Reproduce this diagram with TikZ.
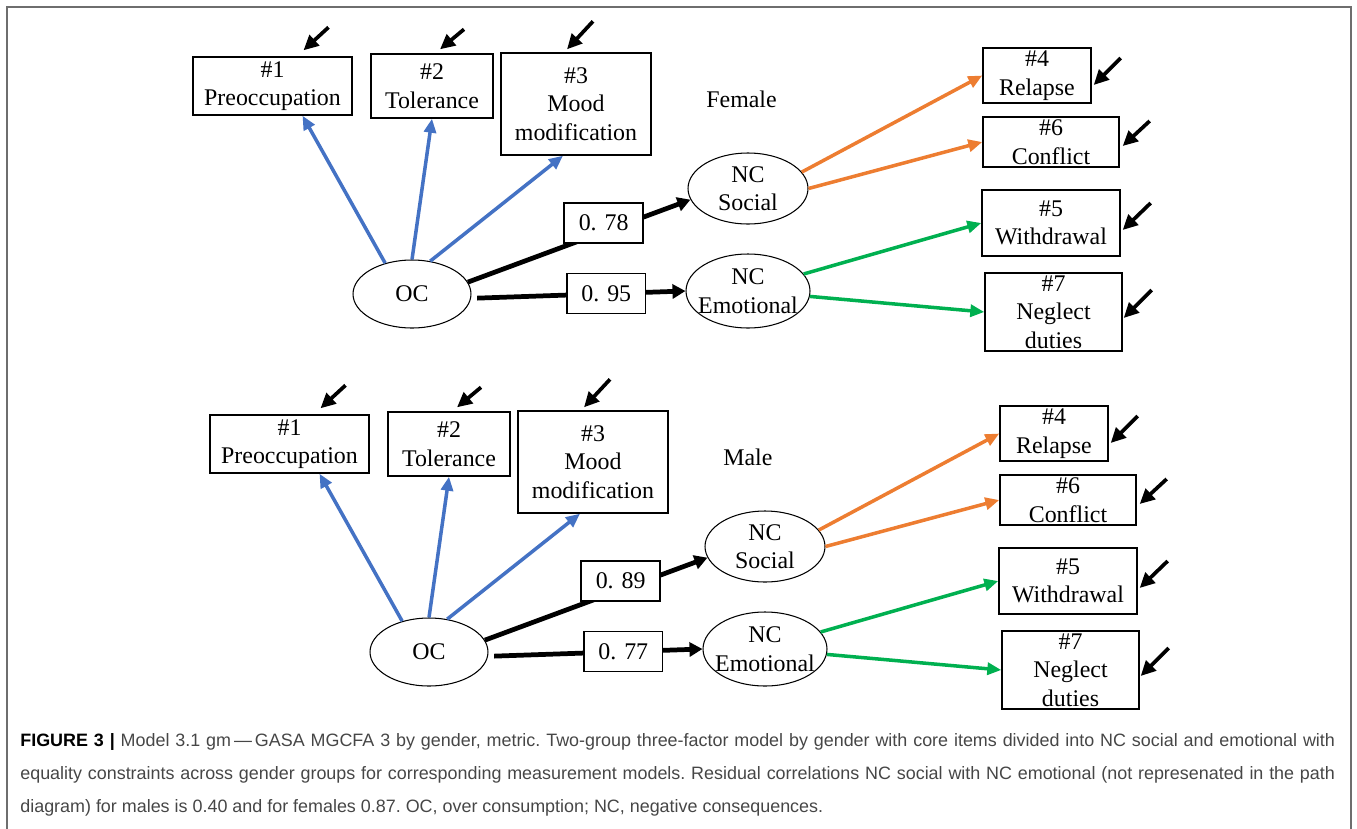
\documentclass[tikz,border=0pt]{standalone}
\usepackage{fontspec}
\setmainfont{Liberation Serif}
\newfontfamily\capfont{Liberation Sans}
\usetikzlibrary{arrows.meta,shapes.geometric}
\definecolor{loadblue}{RGB}{68,114,196}
\definecolor{loadorange}{RGB}{237,125,49}
\definecolor{loadgreen}{RGB}{0,176,80}
\definecolor{framegray}{RGB}{110,110,110}
\definecolor{capgray}{RGB}{70,70,70}
\newcommand{\diafont}{\fontsize{13.6}{16.2}\selectfont}

\tikzset{
  item/.style={draw, line width=0.8pt, align=center, inner sep=0pt, font=\diafont},
  factor/.style={draw, ellipse, line width=0.6pt, align=center, inner sep=0pt, font=\diafont},
  weight/.style={draw, fill=white, line width=0.8pt, minimum width=1.58cm, minimum height=0.8cm, inner sep=0pt, font=\diafont},
  load/.style={line width=2pt, -{Triangle[length=0.28cm, width=0.24cm]}},
  regress/.style={line width=2.7pt, -{Triangle[length=0.26cm, width=0.28cm]}},
  resid/.style={line width=2.1pt, -{Triangle[length=0.3cm, width=0.28cm]}}
}

% one group: #1 prefix, #2 group, #3 weight NC social, #4 weight NC emotional
\newcommand{\gasapanel}[4]{%
\node[item, minimum width=3.18cm, minimum height=1.16cm] (#1b1) at (272.5,86) {\#1\\Preoccupation};
\node[item, minimum width=2.44cm, minimum height=1.28cm] (#1b2) at (432,86) {\#2\\Tolerance};
\node[item, minimum width=3.0cm, minimum height=2.04cm] (#1b3) at (576,104) {\#3\\Mood\\modification};
\node[item, minimum width=2.16cm, minimum height=1.1cm] (#1b4) at (1037,75.5) {\#4\\Relapse};
\node[item, minimum width=2.72cm, minimum height=1.0cm] (#1b6) at (1051,142) {\#6\\Conflict};
\node[item, minimum width=2.76cm, minimum height=1.32cm] (#1b5) at (1051,223) {\#5\\Withdrawal};
\node[item, minimum width=2.74cm, minimum height=1.56cm] (#1b7) at (1053.5,312) {\#7\\Neglect\\duties};
\node[factor, minimum width=2.36cm, minimum height=1.36cm] (#1oc) at (412,294) {OC};
\node[factor, minimum width=2.4cm, minimum height=1.42cm] (#1soc) at (748,188.5) {NC\\Social};
\node[factor, minimum width=2.48cm, minimum height=1.48cm] (#1emo) at (748,291) {NC\\\makebox[0pt]{Emotional}};
\node[anchor=west, inner sep=0pt, font=\diafont] (#1grp) at (706,99) {#2};
%
\draw[load, loadblue] (#1oc.131) -- ([xshift=0.6cm]#1b1.south);
\draw[load, loadblue] (#1oc.90) -- (#1b2.south);
\draw[load, loadblue] (#1oc.61) -- ([xshift=-0.26cm]#1b3.south);
\draw[regress] (#1oc.12) -- node[weight, pos=0.61, yshift=0.18cm] (#1w1) {#3} (#1soc.191);
\draw[regress] ([xshift=0.12cm]#1oc.-4) -- node[weight, pos=0.62] (#1w2) {#4} (#1emo.west);
\draw[load, loadorange] (#1soc.17) -- (#1b4.west);
\draw[load, loadorange] (#1soc.0) -- (#1b6.west);
\draw[load, loadgreen] (#1emo.17) -- (#1b5.west);
\draw[load, loadgreen] (#1emo.-5) -- (#1b7.west);
%
\draw[resid] ([shift={(56,-29)}]#1b1.north) -- ([shift={(31,-6)}]#1b1.north);
\draw[resid] ([shift={(32,-24)}]#1b2.north) -- ([shift={(8,-4)}]#1b2.north);
\draw[resid] ([shift={(17,-31)}]#1b3.north) -- ([shift={(-9,-3)}]#1b3.north);
\draw[resid] ([shift={(29,-17.5)}]#1b4.east) -- ([shift={(2,9.5)}]#1b4.east);
\draw[resid] ([shift={(30,-21)}]#1b6.east) -- ([shift={(3,4)}]#1b6.east);
\draw[resid] ([shift={(30,-20)}]#1b5.east) -- ([shift={(2,7)}]#1b5.east);
\draw[resid] ([shift={(29,-22)}]#1b7.east) -- ([shift={(1,6)}]#1b7.east);
}

\begin{document}
\begin{tikzpicture}[x=0.02cm, y=-0.02cm]
\useasboundingbox (0,0) rectangle (1357,829);
\draw[framegray, line width=1.2pt] (7,829) -- (7,7) -- (1351,7) -- (1351,829);

\begin{scope}
\gasapanel{f}{Female}{0. 78}{0. 95}
\end{scope}

\begin{scope}[shift={(17,358)}]
\gasapanel{m}{Male}{0. 89}{0. 77}
\end{scope}

\node[anchor=north west, text width=26.3cm, align=justify, inner sep=0pt,
  font=\capfont\fontsize{10.2}{18.7}\selectfont\frenchspacing, text=capgray] (caption) at (20,733)
  {\textcolor{black}{\textbf{FIGURE 3 |}} Model 3.1 gm\,—\,GASA MGCFA 3 by gender, metric. Two-group three-factor model by gender with core items divided into NC social and emotional with\linebreak
  equality constraints across gender groups for corresponding measurement models. Residual correlations NC social with NC emotional (not represenated in the path\linebreak
  diagram) for males is 0.40 and for females 0.87. OC, over consumption; NC, negative consequences.};
\end{tikzpicture}
\end{document}
